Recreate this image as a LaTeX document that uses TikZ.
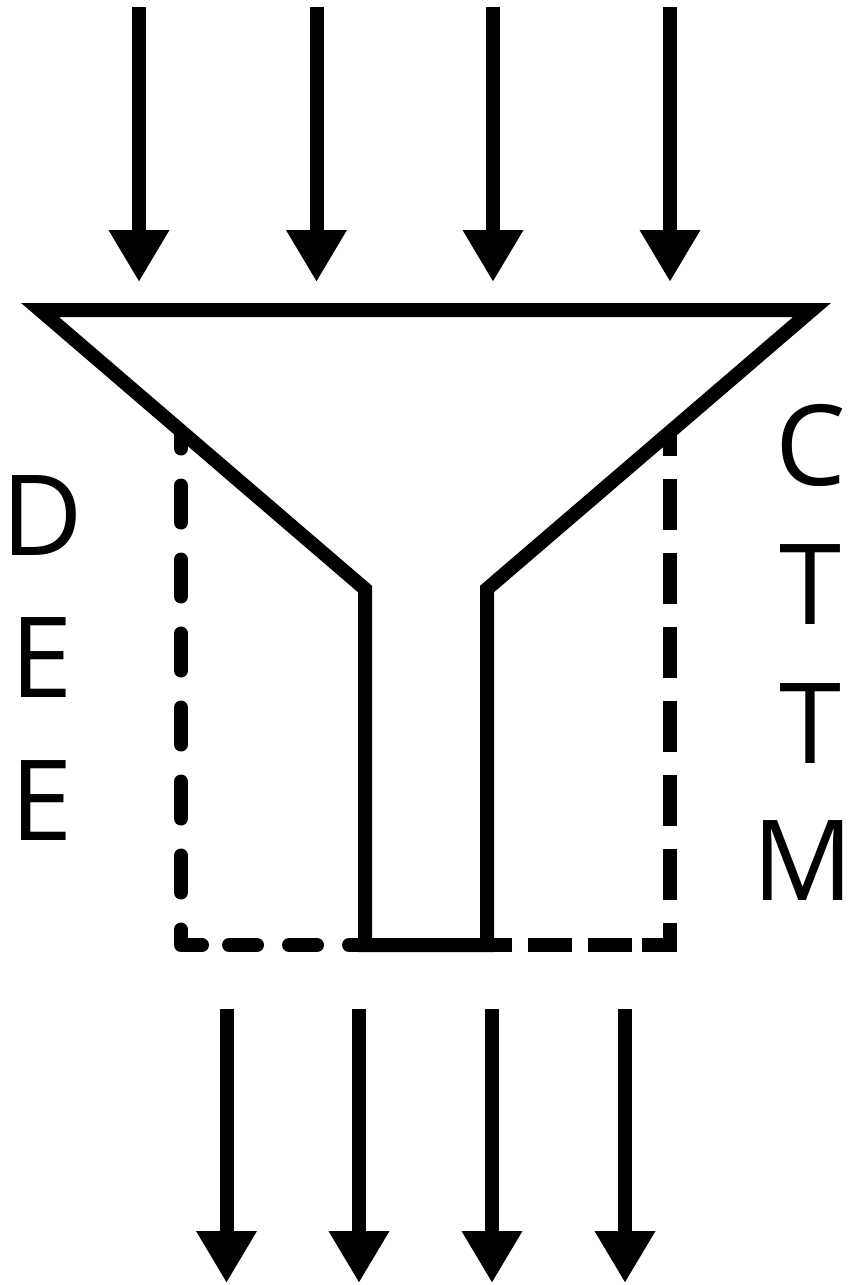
\documentclass[tikz,border=0pt]{standalone}
\usepackage{fontspec}
\setmainfont{Open Sans}
\usetikzlibrary{arrows.meta}
\begin{document}
\begin{tikzpicture}[x=1pt,y=-1pt,
  solidline/.style={line width=14pt, line join=miter},
  flow/.style={line width=14pt, -{Triangle[width=57pt,length=52pt]}},
  dashround/.style={line width=14pt, line cap=round, line join=round},
  dashbutt/.style={line width=14pt, line cap=butt, line join=miter},
  letter/.style={anchor=base, inner sep=0pt, font=\fontsize{112}{112}\selectfont}]
\useasboundingbox (0,0) rectangle (852,1285);

% dashed outline (behind funnel)
\coordinate (lt) at (181,434);
\coordinate (lc) at (181,945);
\coordinate (lce) at (202,945);
\coordinate (lh1) at (229,945);
\coordinate (lh2) at (365,945);
\draw[dashround, dash pattern=on 37pt off 37pt, dash phase=22.5pt] (lt) -- (lc) -- (lce);
\draw[dashround, dash pattern=on 28pt off 32pt] (lh1) -- (lh2);

\coordinate (rt) at (670,432);
\coordinate (rc) at (670,945);
\coordinate (rce) at (641,945);
\coordinate (rh1) at (632,945);
\coordinate (rh2) at (487,945);
\draw[dashbutt, dash pattern=on 51pt off 23pt, dash phase=27.5pt] (rt) -- (rc) -- (rce);
\draw[dashbutt, dash pattern=on 44pt off 16pt] (rh1) -- (rh2);

% funnel
\coordinate (ftl) at (40,310);
\coordinate (ftr) at (812,310);
\coordinate (fbr) at (487,589);
\coordinate (fnr) at (487,945);
\coordinate (fnl) at (365,945);
\coordinate (fbl) at (365,589);
\draw[solidline] (ftl) -- (ftr) -- (fbr) -- (fnr) -- (fnl) -- (fbl) -- cycle;

% input arrows
\foreach \i/\x in {1/139,2/316.5,3/493,4/670}{
  \coordinate (in\i s) at (\x,7);
  \coordinate (in\i e) at (\x,282);
  \draw[flow] (in\i s) -- (in\i e);
}
% output arrows
\foreach \i/\x in {1/226.5,2/359,3/492,4/625}{
  \coordinate (out\i s) at (\x,1009);
  \coordinate (out\i e) at (\x,1283);
  \draw[flow] (out\i s) -- (out\i e);
}

% labels
\node[letter] (d1) at (42,555) {D};
\node[letter] (d2) at (42,697) {E};
\node[letter] (d3) at (42,840) {E};
\node[letter] (c1) at (811,485) {C};
\node[letter] (c2) at (810,624) {T};
\node[letter] (c3) at (810,763) {T};
\node[letter] (c4) at (803,900) {M};
\end{tikzpicture}
\end{document}
